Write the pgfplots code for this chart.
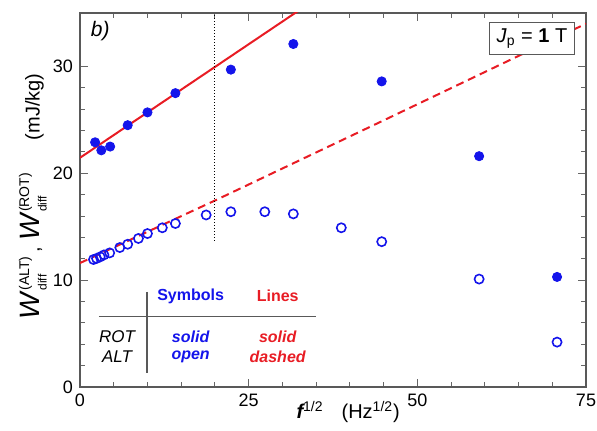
\documentclass[border=0pt]{standalone}
\usepackage{fontspec}
\setmainfont{Liberation Sans}
\usepackage{amsmath}
\usepackage{pgfplots}
\pgfplotsset{compat=1.18}
\definecolor{ptblue}{RGB}{20,20,235}
\definecolor{ptred}{RGB}{232,28,36}
\newcommand{\Wd}[1]{\textit{W}$^{\text{\fontsize{7}{7}\selectfont(#1)}}_{\text{\fontsize{6}{6}\selectfont diff}}$}

\begin{document}
\begin{tikzpicture}
\begin{axis}[
  scale only axis, width=253pt, height=187pt,
  xmin=0, xmax=75, ymin=0, ymax=35,
  xtick={0,25,50,75}, ytick={0,10,20,30},
  minor x tick num=4, minor y tick num=4,
  tick align=inside, major tick length=4pt, minor tick length=2.5pt,
  tick style={gray!80!black, line width=0.5pt},
  axis line style={gray!70!black, line width=0.6pt},
  ticklabel style={font=\fontsize{9}{10}\selectfont},
  /pgf/number format/assume math mode=true,
  xlabel={{\bfseries\itshape f}$^{\text{\fontsize{7}{7}\selectfont 1/2}}$\hspace{9pt}(Hz$^{\text{\fontsize{7}{7}\selectfont 1/2}}$)},
  xlabel style={font=\fontsize{10}{11}\selectfont, at={(axis description cs:0.53,-0.067)}, anchor=center},
  ylabel={{\fontsize{14}{14}\selectfont\Wd{ALT}}\,,\hspace{3pt}{\fontsize{14}{14}\selectfont\Wd{ROT}}\hspace{16pt}(mJ/kg)},
  ylabel style={font=\fontsize{10}{11}\selectfont, at={(axis description cs:-0.093,0.51)}, anchor=center},
]
% ROT, solid symbols
\addplot[only marks, mark=*, mark size=2.3pt, color=ptblue] coordinates {
  (2.24,22.9) (3.16,22.15) (4.47,22.5) (7.07,24.5) (10,25.7) (14.14,27.5)
  (22.36,29.7) (31.62,32.1) (44.72,28.6) (59.16,21.6) (70.71,10.3)
};
% ALT, open symbols
\addplot[only marks, mark=o, mark size=2.3pt, color=ptblue, line width=0.8pt] coordinates {
  (2.0,11.93) (2.45,12.03) (3.0,12.18) (3.55,12.36) (4.4,12.55) (5.9,13.05)
  (7.07,13.36) (8.66,13.9) (10,14.36) (12.2,14.9) (14.14,15.3) (18.7,16.1)
  (22.36,16.4) (27.39,16.4) (31.62,16.2) (38.73,14.9) (44.72,13.6)
  (59.16,10.1) (70.71,4.2)
};
% fitted lines
\addplot[ptred, line width=1pt] coordinates {(0,21.45) (10,25.7) (20,29.95) (34,35.9)};
\addplot[ptred, line width=1pt, dash pattern=on 4pt off 2.5pt] coordinates {(0,11.6) (20,17.45) (45,24.95) (75,34.0)};
% vertical dotted line
\addplot[black, densely dotted, line width=0.5pt] coordinates {(20,13.7) (20,35)};

\node[font=\fontsize{10.5}{11}\selectfont\itshape] at (axis cs:3,33.3) {b)};
\node[draw=gray!70!black, line width=0.5pt, fill=white, inner xsep=3.5pt, inner ysep=3pt, font=\fontsize{10}{11}\selectfont] at (axis cs:67,32.6)
  {\textit{J}$_{\text{\fontsize{7}{7}\selectfont p}}$ = \textbf{1} T};

% key table
\draw[gray!70!black, line width=0.6pt] (axis cs:9.93,8.9) -- (axis cs:9.93,1.3);
\draw[gray!70!black, line width=0.6pt] (axis cs:2.8,6.6) -- (axis cs:35,6.6);
\node[text=ptblue, font=\fontsize{8}{9}\selectfont\bfseries] at (axis cs:16.4,8.5) {Symbols};
\node[text=ptred, font=\fontsize{8}{9}\selectfont\bfseries] at (axis cs:29.3,8.5) {Lines};
\node[font=\fontsize{8.5}{9}\selectfont\itshape] at (axis cs:5.5,4.7) {ROT};
\node[font=\fontsize{8.5}{9}\selectfont\itshape] at (axis cs:5.5,2.8) {ALT};
\node[text=ptblue, font=\fontsize{8}{9}\selectfont\bfseries\itshape] at (axis cs:16.4,4.7) {solid};
\node[text=ptblue, font=\fontsize{8}{9}\selectfont\bfseries\itshape] at (axis cs:16.4,2.8) {open};
\node[text=ptred, font=\fontsize{8}{9}\selectfont\bfseries\itshape] at (axis cs:29.3,4.7) {solid};
\node[text=ptred, font=\fontsize{8}{9}\selectfont\bfseries\itshape] at (axis cs:29.3,2.8) {dashed};
\end{axis}
\pgfresetboundingbox
\path[use as bounding box] ([shift={(-40pt,-22pt)}]current axis.south west) rectangle ([shift={(5.5pt,6.5pt)}]current axis.north east);
\end{tikzpicture}
\end{document}
